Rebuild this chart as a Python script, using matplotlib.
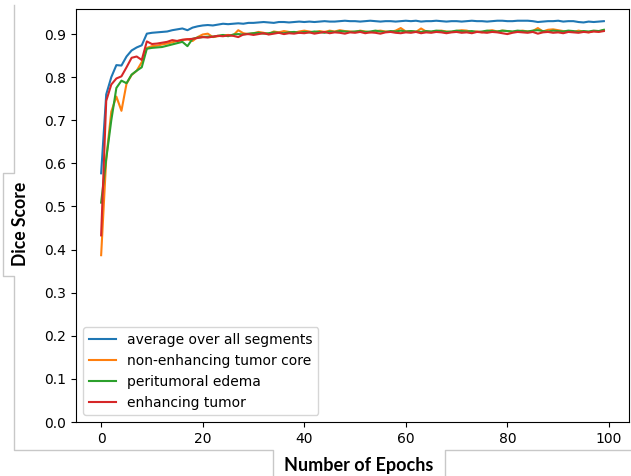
import matplotlib
matplotlib.use("Agg")
import matplotlib.pyplot as plt
from matplotlib.lines import Line2D

# dice score per epoch
avg_all = [
    0.577, 0.760, 0.800, 0.828, 0.827, 0.848, 0.862, 0.869, 0.874, 0.901,
    0.903, 0.904, 0.905, 0.906, 0.909, 0.911, 0.913, 0.909, 0.915, 0.918,
    0.920, 0.921, 0.920, 0.922, 0.924, 0.923, 0.924, 0.925, 0.924, 0.926,
    0.926, 0.927, 0.928, 0.927, 0.926, 0.928, 0.928, 0.927, 0.928, 0.929,
    0.928, 0.929, 0.928, 0.929, 0.930, 0.929, 0.929, 0.930, 0.931, 0.930,
    0.930, 0.929, 0.930, 0.931, 0.930, 0.929, 0.930, 0.930, 0.929, 0.930,
    0.931, 0.930, 0.931, 0.929, 0.930, 0.930, 0.931, 0.930, 0.929, 0.930,
    0.930, 0.929, 0.930, 0.931, 0.930, 0.930, 0.929, 0.930, 0.931, 0.931,
    0.930, 0.930, 0.931, 0.931, 0.931, 0.930, 0.928, 0.929, 0.930, 0.930,
    0.931, 0.929, 0.930, 0.930, 0.928, 0.927, 0.929, 0.928, 0.929, 0.930,
]
non_enh_core = [
    0.387, 0.610, 0.720, 0.755, 0.722, 0.785, 0.805, 0.815, 0.835, 0.868,
    0.872, 0.873, 0.876, 0.878, 0.881, 0.884, 0.886, 0.888, 0.884, 0.893,
    0.899, 0.901, 0.893, 0.895, 0.897, 0.898, 0.897, 0.909, 0.902, 0.900,
    0.902, 0.905, 0.903, 0.900, 0.906, 0.904, 0.907, 0.905, 0.903, 0.906,
    0.908, 0.906, 0.904, 0.907, 0.905, 0.908, 0.906, 0.909, 0.907, 0.906,
    0.905, 0.908, 0.906, 0.904, 0.907, 0.908, 0.906, 0.905, 0.908, 0.914,
    0.906, 0.907, 0.905, 0.913, 0.906, 0.905, 0.907, 0.908, 0.906, 0.905,
    0.907, 0.909, 0.908, 0.905, 0.906, 0.904, 0.907, 0.909, 0.906, 0.908,
    0.907, 0.905, 0.906, 0.908, 0.906, 0.907, 0.914, 0.906, 0.910, 0.911,
    0.909, 0.907, 0.906, 0.905, 0.908, 0.906, 0.904, 0.907, 0.906, 0.909,
]
edema = [
    0.509, 0.610, 0.700, 0.775, 0.792, 0.786, 0.806, 0.815, 0.823, 0.866,
    0.868, 0.869, 0.870, 0.873, 0.876, 0.879, 0.882, 0.872, 0.889, 0.892,
    0.893, 0.894, 0.894, 0.896, 0.898, 0.895, 0.899, 0.900, 0.899, 0.901,
    0.902, 0.903, 0.901, 0.902, 0.904, 0.903, 0.902, 0.904, 0.905, 0.903,
    0.905, 0.904, 0.906, 0.905, 0.903, 0.906, 0.905, 0.907, 0.906, 0.905,
    0.906, 0.907, 0.905, 0.906, 0.908, 0.906, 0.905, 0.907, 0.906, 0.908,
    0.906, 0.907, 0.906, 0.905, 0.907, 0.906, 0.908, 0.907, 0.905, 0.906,
    0.908, 0.907, 0.906, 0.907, 0.905, 0.906, 0.908, 0.907, 0.906, 0.908,
    0.907, 0.906, 0.908, 0.907, 0.906, 0.908, 0.909, 0.907, 0.906, 0.908,
    0.907, 0.906, 0.908, 0.907, 0.905, 0.907, 0.906, 0.908, 0.907, 0.910,
]
enh_tumor = [
    0.433, 0.745, 0.783, 0.797, 0.802, 0.823, 0.845, 0.848, 0.840, 0.883,
    0.877, 0.878, 0.880, 0.882, 0.886, 0.884, 0.887, 0.888, 0.889, 0.891,
    0.893, 0.892, 0.894, 0.896, 0.895, 0.897, 0.896, 0.893, 0.899, 0.900,
    0.898, 0.900, 0.902, 0.899, 0.901, 0.903, 0.900, 0.902, 0.901, 0.903,
    0.902, 0.904, 0.901, 0.903, 0.905, 0.902, 0.904, 0.903, 0.901, 0.904,
    0.903, 0.905, 0.902, 0.904, 0.903, 0.901, 0.904, 0.905, 0.903, 0.902,
    0.904, 0.903, 0.905, 0.902, 0.904, 0.903, 0.905, 0.904, 0.902, 0.904,
    0.905, 0.903, 0.904, 0.902, 0.905, 0.904, 0.903, 0.905, 0.904, 0.902,
    0.900, 0.903, 0.905, 0.904, 0.903, 0.905, 0.901, 0.904, 0.905, 0.903,
    0.904, 0.902, 0.905, 0.904, 0.903, 0.905, 0.904, 0.906, 0.905, 0.907,
]
series_labels = ["average over all segments", "non-enhancing tumor core",
                 "peritumoral edema", "enhancing tumor"]
epochs = list(range(len(avg_all)))

W, H = 631, 476
fig = plt.figure(figsize=(W / 100, H / 100), dpi=100)
ax = fig.add_axes([76 / W, 1 - 422 / H, (629 - 76) / W, (422 - 9) / H])

for ys, lab in zip([avg_all, non_enh_core, edema, enh_tumor], series_labels):
    ax.plot(epochs, ys, label=lab)

ax.set_ylim(bottom=0)
ax.set_yticks([i / 10 for i in range(10)])
ax.legend(loc="lower left")


def px(x, y):
    return x / W, 1 - y / H


# grey frame around pasted axis labels
frame = "#c8c8c8"
pts = [(14, 5), (14, 173), (3, 173), (3, 276), (14, 276), (14, 450),
       (273, 450), (273, 476)]
fig.add_artist(Line2D([px(*p)[0] for p in pts], [px(*p)[1] for p in pts],
                      color=frame, lw=1, transform=fig.transFigure))
pts = [(445, 476), (445, 450), (631, 450)]
fig.add_artist(Line2D([px(*p)[0] for p in pts], [px(*p)[1] for p in pts],
                      color=frame, lw=1, transform=fig.transFigure))

fig.text(*px(20, 224), "Dice Score", rotation=90, ha="center", va="center",
         fontsize=12.7, fontweight="bold", family="Lato")
fig.text(*px(359, 466), "Number of Epochs", ha="center", va="center",
         fontsize=13, fontweight="bold", family="Lato")

fig.savefig("out.png", dpi=100)
